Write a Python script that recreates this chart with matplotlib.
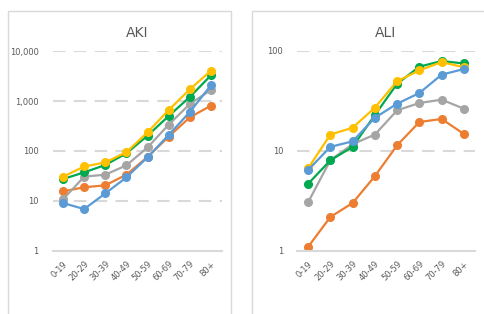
import matplotlib
matplotlib.use("Agg")
import matplotlib.pyplot as plt
from matplotlib.patches import Rectangle

categories = ["0-19", "20-29", "30-39", "40-49", "50-59", "60-69", "70-79", "80+"]

aki_blue = [9.1, 6.9, 14.2, 29.7, 75, 209, 603, 2056]
aki_orange = [15.6, 18.8, 20.6, 33.6, 76, 194, 471, 807]
aki_gray = [10.8, 30.7, 33.6, 51.7, 118, 336, 871, 1660]
aki_yellow = [30.6, 49, 59, 95, 236, 661, 1711, 4044]
aki_green = [27.5, 37.4, 52.5, 90, 203, 501, 1202, 3260]

ali_blue = [6.46, 11.0, 12.5, 21.5, 29.7, 38, 58, 66]
ali_orange = [1.1, 2.19, 3.02, 5.6, 11.4, 19.5, 20.9, 14.8]
ali_gray = [3.07, 8.1, 11.7, 14.6, 25.5, 30.2, 32.6, 26.5]
ali_yellow = [6.7, 14.6, 17.1, 27.1, 50, 64, 77.6, 68.7]
ali_green = [4.7, 8.07, 11.0, 22.9, 47, 69.7, 79.4, 75]

aki_ticks = [1, 10, 100, 1000, 10000]
aki_ticklabels = ["1", "10", "100", "1,000", "10,000"]
ali_ticks = [1, 10, 100]
ali_ticklabels = ["1", "10", "100"]

colors = {"blue": "#5B9BD5", "orange": "#ED7D31", "gray": "#A5A5A5",
          "yellow": "#FFC000", "green": "#00A94F"}
txt = "#595959"

fig = plt.figure(figsize=(4.84, 3.14), dpi=100)
fig.patch.set_facecolor("white")

# panel borders
for (x0, x1) in [(8, 231), (252, 490)]:
    fig.add_artist(Rectangle((x0 / 484, -0.05), (x1 - x0) / 484, 1.05 - 11 / 314,
                             transform=fig.transFigure, fill=False,
                             edgecolor="#D9D9D9", linewidth=1.0))

def panel(rect, title, series, ticks, ticklabels, ymax):
    ax = fig.add_axes(rect)
    x = list(range(len(categories)))
    for name, vals in series:
        ax.plot(x, vals, color=colors[name], lw=1.6, marker="o", ms=5.5,
                markeredgecolor=colors[name])
    ax.set_yscale("log")
    ax.set_ylim(1, ymax)
    ax.set_xlim(-0.5, len(categories) - 0.5)
    ax.set_yticks(ticks)
    ax.set_yticklabels(ticklabels)
    ax.minorticks_off()
    ax.set_xticks(x)
    ax.set_xticklabels(categories, rotation=45, ha="right", rotation_mode="anchor")
    ax.tick_params(axis="both", length=0, labelsize=6, labelcolor=txt)
    ax.tick_params(axis="y", pad=10)
    ax.tick_params(axis="x", pad=6)
    for s in ["top", "right", "left"]:
        ax.spines[s].set_visible(False)
    ax.spines["bottom"].set_color("#D9D9D9")
    ax.spines["bottom"].set_linewidth(1.5)
    for t in ticks[1:]:
        ax.axhline(t, color="#D9D9D9", lw=1.5, ls=(0, (6, 4)), zorder=0)
    ax.set_title(title, fontsize=10, color=txt, pad=10)
    ax.patch.set_alpha(0)
    return ax

panel([52.5 / 484, 1 - 251 / 314, 169 / 484, 200 / 314], "AKI",
      [("orange", aki_orange), ("gray", aki_gray), ("green", aki_green),
       ("yellow", aki_yellow), ("blue", aki_blue)],
      aki_ticks, aki_ticklabels, 10000)

panel([297 / 484, 1 - 251 / 314, 178 / 484, 200 / 314], "ALI",
      [("orange", ali_orange), ("gray", ali_gray), ("green", ali_green),
       ("yellow", ali_yellow), ("blue", ali_blue)],
      ali_ticks, ali_ticklabels, 100)

fig.savefig("out.png", dpi=100)
